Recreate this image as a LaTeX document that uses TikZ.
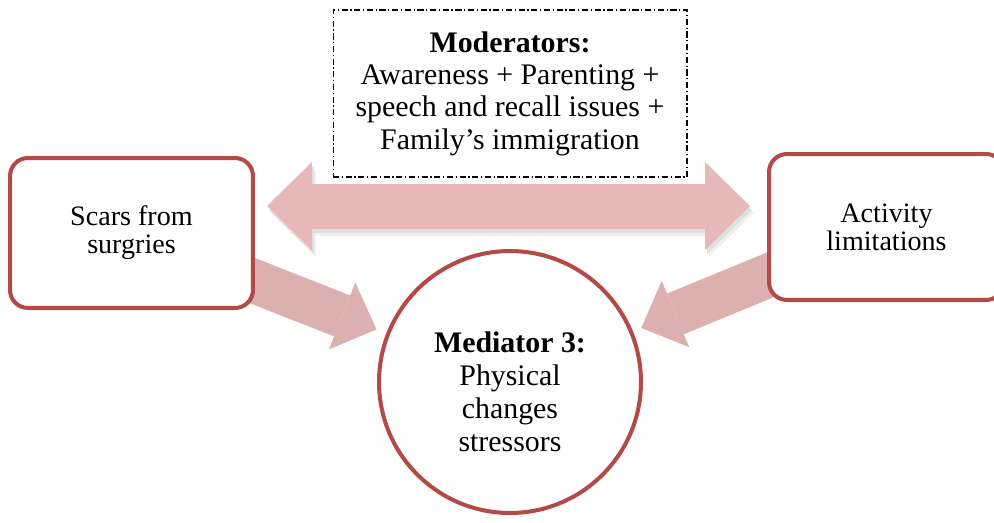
\documentclass[tikz,border=0pt]{standalone}
\usepackage{fontspec}
\setmainfont{Liberation Serif}
\usetikzlibrary{arrows.meta,calc,backgrounds}
\definecolor{boxred}{RGB}{180,74,72}
\definecolor{arrowpink}{RGB}{230,184,183}
\definecolor{arrowrose}{RGB}{221,176,176}

\begin{document}
\begin{tikzpicture}[x=0.02cm, y=-0.02cm,
  factor/.style={draw=boxred, line width=2.3pt, rounded corners=0.36cm, fill=white,
    align=center, font=\fontsize{16}{16}\selectfont},
  mediator/.style={circle, draw=boxred, line width=2.3pt, fill=white, minimum size=5.24cm},
  moderator/.style={draw, line width=0.6pt, dash pattern=on 3.5pt off 1.5pt on 0.7pt off 1.5pt,
    minimum width=7.08cm, minimum height=3.34cm, align=center,
    font=\fontsize{17}{18.4}\selectfont},
  pushboth/.style={draw=arrowpink, line width=0.9cm,
    {Triangle[width=1.76cm,length=0.9cm,line width=0pt]}-{Triangle[width=1.76cm,length=0.9cm,line width=0pt]}},
  push/.style={draw=arrowrose, line width=0.88cm, -{Triangle[width=1.44cm,length=0.74cm,line width=0pt]}}]
 \useasboundingbox (0,0) rectangle (994,522);
 \node[moderator] (mods) at (510,93.5) {\textbf{Moderators:}\\Awareness + Parenting +\\speech and recall issues +\\Family’s immigration};
 \node[factor, minimum width=4.86cm, minimum height=3cm] (scars) at (131.5,233) {Scars from\\surgries};
 \node[factor, minimum width=4.7cm, minimum height=2.92cm] (activity) at (886.5,227) {Activity\\limitations};
 \node[mediator] (med) at (510,382) {};
 \node[align=center, font=\fontsize{17}{18.8}\selectfont] (medtext) at ($(med.center)+(0,10)$) {\textbf{Mediator 3:}\\Physical\\changes\\stressors};
 \coordinate (dl) at (267,206);
 \coordinate (dr) at (750,206);
 %
 \begin{scope}[on background layer]
   \draw[pushboth, draw=gray!12] ([shift={(4,7)}]dl) -- ([shift={(4,7)}]dr);
   \draw[pushboth, draw=gray!25] ([shift={(2,4)}]dl) -- ([shift={(2,4)}]dr);
   \draw[pushboth] (dl) -- (dr);
   \draw[push, shorten <=2.2cm, shorten >=2.87cm] (scars.center) -- (med.center);
   \draw[push, shorten <=2.2cm, shorten >=2.84cm] (activity.center) -- (med.center);
 \end{scope}
\end{tikzpicture}
\end{document}
